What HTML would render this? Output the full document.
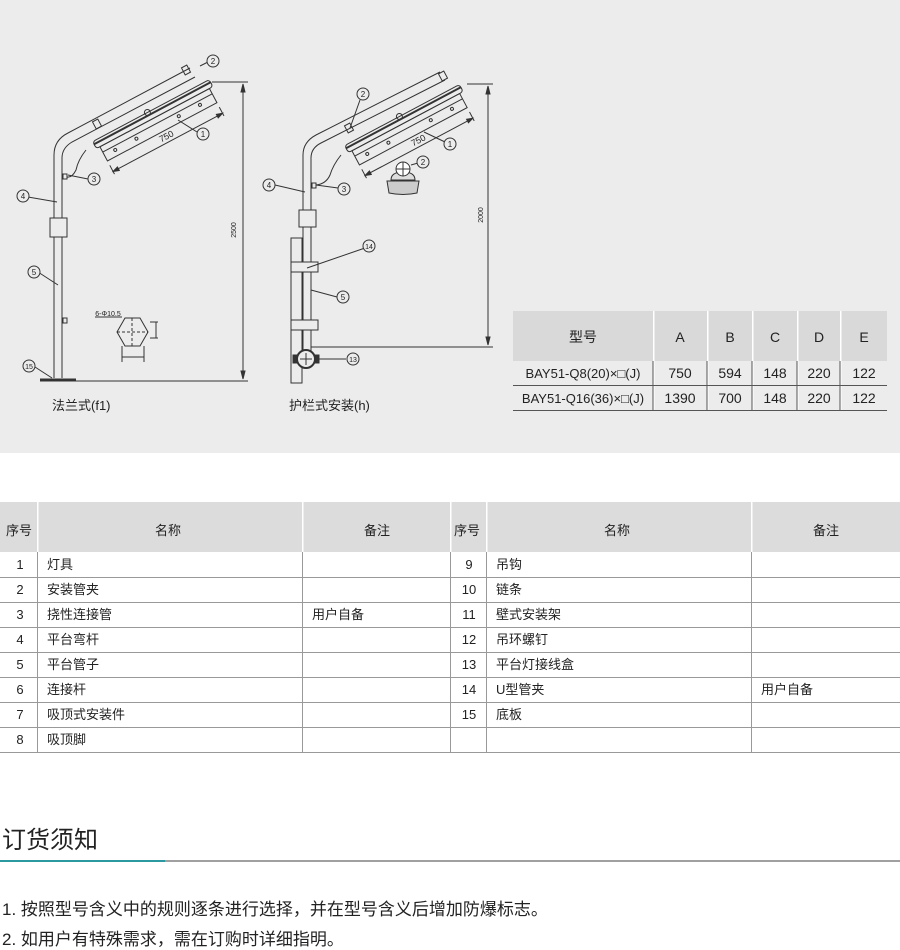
<!DOCTYPE html>
<html><head><meta charset="utf-8"><style>
html,body{margin:0;padding:0;background:#fff;width:900px;height:950px;overflow:hidden}
svg text{font-family:"Liberation Sans","Noto Sans CJK SC",sans-serif;fill:#222}
</style></head><body>
<svg width="900" height="950" viewBox="0 0 900 950" xmlns="http://www.w3.org/2000/svg">
<rect x="0" y="0" width="900" height="453" fill="#ececec"/>

<!-- Diagram 1 -->
<g stroke="#333" fill="none" stroke-width="1">
  <!-- pole -->
  <path d="M54,378 L54,155 Q54,140 68,133 L190,68"/>
  <path d="M62,378 L62,158 Q62,148 72,142 L195,77"/>
  <rect x="50" y="218" width="17" height="19" fill="#ececec"/>
  <rect x="63" y="174" width="4" height="5"/>
  <rect x="63" y="318" width="4" height="5"/>
  <line x1="40" y1="380" x2="76" y2="380" stroke-width="3"/>
  <!-- lamp -->
  <g transform="translate(95,146) rotate(-28)">
    <rect x="0" y="-5" width="132" height="8" rx="3"/>
    <rect x="4" y="3" width="124" height="16"/>
    <line x1="4" y1="9" x2="128" y2="9"/>
    <line x1="0" y1="-2" x2="132" y2="-2" stroke-width="2"/>
    <circle cx="62" cy="-5" r="3"/>
    <circle cx="16" cy="13" r="1.5"/><circle cx="40" cy="13" r="1.5"/><circle cx="88" cy="13" r="1.5"/><circle cx="112" cy="13" r="1.5"/>
    <line x1="4" y1="24" x2="4" y2="34"/><line x1="128" y1="24" x2="128" y2="34"/>
    <line x1="4" y1="31" x2="128" y2="31"/>
    <path d="M4,31 l6,-2 l0,4z M128,31 l-6,-2 l0,4z" fill="#333"/>
    <text x="60" y="28" font-size="9" stroke="none" fill="#333">750</text>
  </g>
  <rect x="94" y="120" width="6" height="8" transform="rotate(-28 97 124)"/>
  <rect x="183" y="66" width="6" height="8" transform="rotate(-28 186 70)"/>
  <path d="M86,150 Q78,160 76,170 Q72,178 67,177"/>
  <!-- dimension -->
  <line x1="212" y1="82" x2="248" y2="82"/>
  <line x1="76" y1="381" x2="248" y2="381"/>
  <line x1="243" y1="84" x2="243" y2="379"/>
  <path d="M243,84 l-2,8 l4,0z M243,379 l-2,-8 l4,0z" fill="#333"/>
  <!-- flange detail -->
  <path d="M125,318 L140,318 L148,332 L140,346 L125,346 L117,332Z"/>
  <line x1="132" y1="318" x2="132" y2="346" stroke-dasharray="3,2"/>
  <line x1="117" y1="332" x2="148" y2="332" stroke-dasharray="3,2"/>
  <line x1="95" y1="317" x2="122" y2="317"/>
  <line x1="150" y1="322" x2="158" y2="322"/><line x1="150" y1="338" x2="158" y2="338"/><line x1="156" y1="322" x2="156" y2="338"/>
  <line x1="122" y1="346" x2="122" y2="362"/><line x1="144" y1="346" x2="144" y2="362"/><line x1="122" y1="357" x2="144" y2="357"/>
  <!-- callouts -->
  <line x1="200" y1="66" x2="208" y2="62"/><line x1="178" y1="120" x2="197" y2="132"/>
  <line x1="68" y1="175" x2="88" y2="179"/><line x1="28" y1="197" x2="57" y2="202"/>
  <line x1="38" y1="272" x2="58" y2="285"/><line x1="35" y1="367" x2="52" y2="378"/>
  <g fill="#ececec">
  <circle cx="213" cy="61" r="6"/><circle cx="203" cy="134" r="6"/><circle cx="94" cy="179" r="6"/>
  <circle cx="23" cy="196" r="6"/><circle cx="34" cy="272" r="6"/><circle cx="29" cy="366" r="6"/>
  </g>
</g>
<g font-size="8" text-anchor="middle">
<text x="213" y="64">2</text><text x="203" y="137">1</text><text x="94" y="182">3</text>
<text x="23" y="199">4</text><text x="34" y="275">5</text><text x="29" y="369" font-size="7">15</text>
<text x="108" y="316" font-size="7">6-Φ10.5</text>
<text x="236" y="230" font-size="7" transform="rotate(-90 236 230)">2500</text>
</g>
<text x="52" y="410" font-size="13">法兰式(f1)</text>

<!-- Diagram 2 -->
<g stroke="#333" fill="none" stroke-width="1">
  <path d="M303,360 L303,155 Q303,142 316,135 L440,72"/>
  <path d="M311,360 L311,158 Q311,148 321,143 L445,80"/>
  <rect x="299" y="210" width="17" height="17" fill="#ececec"/>
  <rect x="291" y="238" width="11" height="145" fill="#ececec"/>
  <rect x="291" y="262" width="27" height="10" fill="#ececec"/>
  <rect x="291" y="320" width="27" height="10" fill="#ececec"/>
  <rect x="312" y="183" width="4" height="5"/>
  <circle cx="306" cy="359" r="9" fill="#ececec" stroke-width="2"/>
  <line x1="300" y1="359" x2="312" y2="359"/><line x1="306" y1="353" x2="306" y2="365"/>
  <rect x="293" y="355" width="4" height="8" fill="#333"/><rect x="315" y="355" width="4" height="8" fill="#333"/>
  <g transform="translate(347,150) rotate(-28)">
    <rect x="0" y="-5" width="130" height="8" rx="3"/>
    <rect x="4" y="3" width="122" height="16"/>
    <line x1="4" y1="9" x2="126" y2="9"/>
    <line x1="0" y1="-2" x2="130" y2="-2" stroke-width="2"/>
    <circle cx="62" cy="-5" r="3"/>
    <circle cx="16" cy="13" r="1.5"/><circle cx="40" cy="13" r="1.5"/><circle cx="88" cy="13" r="1.5"/><circle cx="112" cy="13" r="1.5"/>
    <line x1="4" y1="24" x2="4" y2="34"/><line x1="126" y1="24" x2="126" y2="34"/>
    <line x1="4" y1="31" x2="126" y2="31"/>
    <path d="M4,31 l6,-2 l0,4z M126,31 l-6,-2 l0,4z" fill="#333"/>
    <text x="60" y="28" font-size="9" stroke="none" fill="#333">750</text>
  </g>
  <rect x="346" y="124" width="6" height="8" transform="rotate(-28 349 128)"/>
  <rect x="440" y="72" width="6" height="8" transform="rotate(-28 443 76)"/>
  <path d="M341,155 Q333,165 330,175 Q326,184 316,185"/>
  <!-- lamp icon -->
  <path d="M391,180 Q391,172 403,172 Q415,172 415,180 Z" fill="#ddd"/>
  <circle cx="403" cy="169" r="7" fill="#fff"/>
  <line x1="403" y1="162" x2="403" y2="176"/><line x1="396" y1="169" x2="410" y2="169"/>
  <path d="M387,181 L419,181 L417,193 Q403,196 389,193 Z" fill="#ccc"/>
  <!-- dimension -->
  <line x1="467" y1="84" x2="493" y2="84"/>
  <line x1="311" y1="347" x2="493" y2="347"/>
  <line x1="488" y1="86" x2="488" y2="345"/>
  <path d="M488,86 l-2,8 l4,0z M488,345 l-2,-8 l4,0z" fill="#333"/>
  <!-- callouts -->
  <line x1="360" y1="100" x2="350" y2="128"/><line x1="424" y1="132" x2="445" y2="142"/>
  <line x1="411" y1="165" x2="418" y2="163"/><line x1="316" y1="185" x2="338" y2="188"/>
  <line x1="275" y1="185" x2="305" y2="192"/><line x1="307" y1="268" x2="365" y2="248"/>
  <line x1="311" y1="290" x2="337" y2="297"/><line x1="319" y1="359" x2="346" y2="359"/>
  <g fill="#ececec">
  <circle cx="363" cy="94" r="6"/><circle cx="450" cy="144" r="6"/><circle cx="423" cy="162" r="6"/>
  <circle cx="344" cy="189" r="6"/><circle cx="269" cy="185" r="6"/><circle cx="369" cy="246" r="6"/>
  <circle cx="343" cy="297" r="6"/><circle cx="353" cy="359" r="6"/>
  </g>
</g>
<g font-size="8" text-anchor="middle">
<text x="363" y="97">2</text><text x="450" y="147">1</text><text x="423" y="165">2</text>
<text x="344" y="192">3</text><text x="269" y="188">4</text><text x="369" y="249" font-size="7">14</text>
<text x="343" y="300">5</text><text x="353" y="362" font-size="7">13</text>
<text x="483" y="215" font-size="7" transform="rotate(-90 483 215)">2000</text>
</g>
<text x="289" y="410" font-size="13">护栏式安装(h)</text>

<!-- spec table -->
<rect x="513" y="311" width="374" height="50" fill="#d9d9d9"/>
<g fill="#fff"><rect x="653" y="311" width="1.5" height="99"/><rect x="707" y="311" width="1.5" height="99"/><rect x="752" y="311" width="1.5" height="99"/><rect x="797" y="311" width="1.5" height="99"/><rect x="840" y="311" width="1.5" height="99"/></g>
<g stroke="#555" stroke-width="1"><line x1="653" y1="361" x2="653" y2="410"/><line x1="707" y1="361" x2="707" y2="410"/><line x1="752" y1="361" x2="752" y2="410"/><line x1="797" y1="361" x2="797" y2="410"/><line x1="840" y1="361" x2="840" y2="410"/>
<line x1="513" y1="385.5" x2="887" y2="385.5"/><line x1="513" y1="410.5" x2="887" y2="410.5"/></g>
<g font-size="14" text-anchor="middle">
<text x="583" y="342">型号</text><text x="680" y="342">A</text><text x="730" y="342">B</text><text x="775" y="342">C</text><text x="819" y="342">D</text><text x="864" y="342">E</text>
<text x="583" y="378" font-size="13">BAY51-Q8(20)×□(J)</text><text x="680" y="378">750</text><text x="730" y="378">594</text><text x="775" y="378">148</text><text x="819" y="378">220</text><text x="864" y="378">122</text>
<text x="583" y="403" font-size="13">BAY51-Q16(36)×□(J)</text><text x="680" y="403">1390</text><text x="730" y="403">700</text><text x="775" y="403">148</text><text x="819" y="403">220</text><text x="864" y="403">122</text>
</g>

<!-- parts table -->
<rect x="0" y="502" width="900" height="50" fill="#dcdcdc"/>
<g fill="#fff"><rect x="37" y="502" width="1.5" height="50"/><rect x="302" y="502" width="1.5" height="50"/><rect x="450" y="502" width="1.5" height="50"/><rect x="486" y="502" width="1.5" height="50"/><rect x="751" y="502" width="1.5" height="50"/></g>
<g stroke="#999" stroke-width="1">
<line x1="37.5" y1="552" x2="37.5" y2="752"/><line x1="302.5" y1="552" x2="302.5" y2="752"/><line x1="450.5" y1="552" x2="450.5" y2="752"/><line x1="486.5" y1="552" x2="486.5" y2="752"/><line x1="751.5" y1="552" x2="751.5" y2="752"/>
<line x1="0" y1="577.5" x2="900" y2="577.5"/><line x1="0" y1="602.5" x2="900" y2="602.5"/><line x1="0" y1="627.5" x2="900" y2="627.5"/><line x1="0" y1="652.5" x2="900" y2="652.5"/><line x1="0" y1="677.5" x2="900" y2="677.5"/><line x1="0" y1="702.5" x2="900" y2="702.5"/><line x1="0" y1="727.5" x2="900" y2="727.5"/><line x1="0" y1="752.5" x2="900" y2="752.5"/>
</g>
<g font-size="13">
<text x="6" y="535">序号</text><text x="155" y="535">名称</text><text x="364" y="535">备注</text>
<text x="454" y="535">序号</text><text x="604" y="535">名称</text><text x="813" y="535">备注</text>
<g text-anchor="middle">
<text x="20" y="569">1</text><text x="20" y="594">2</text><text x="20" y="619">3</text><text x="20" y="644">4</text><text x="20" y="669">5</text><text x="20" y="694">6</text><text x="20" y="719">7</text><text x="20" y="744">8</text>
<text x="469" y="569">9</text><text x="469" y="594">10</text><text x="469" y="619">11</text><text x="469" y="644">12</text><text x="469" y="669">13</text><text x="469" y="694">14</text><text x="469" y="719">15</text>
</g>
<text x="47" y="569">灯具</text><text x="47" y="594">安装管夹</text><text x="47" y="619">挠性连接管</text><text x="47" y="644">平台弯杆</text><text x="47" y="669">平台管子</text><text x="47" y="694">连接杆</text><text x="47" y="719">吸顶式安装件</text><text x="47" y="744">吸顶脚</text>
<text x="312" y="619">用户自备</text>
<text x="496" y="569">吊钩</text><text x="496" y="594">链条</text><text x="496" y="619">壁式安装架</text><text x="496" y="644">吊环螺钉</text><text x="496" y="669">平台灯接线盒</text><text x="496" y="694">U型管夹</text><text x="496" y="719">底板</text>
<text x="761" y="694">用户自备</text>
</g>

<!-- ordering -->
<text x="2" y="848" font-size="24" fill="#333">订货须知</text>
<rect x="0" y="860" width="900" height="2" fill="#a0a0a0"/>
<rect x="0" y="860" width="165" height="2" fill="#2a9aa0"/>
<text x="2" y="915" font-size="17">1. 按照型号含义中的规则逐条进行选择，并在型号含义后增加防爆标志。</text>
<text x="2" y="945" font-size="17">2. 如用户有特殊需求，需在订购时详细指明。</text>
</svg>
</body></html>
